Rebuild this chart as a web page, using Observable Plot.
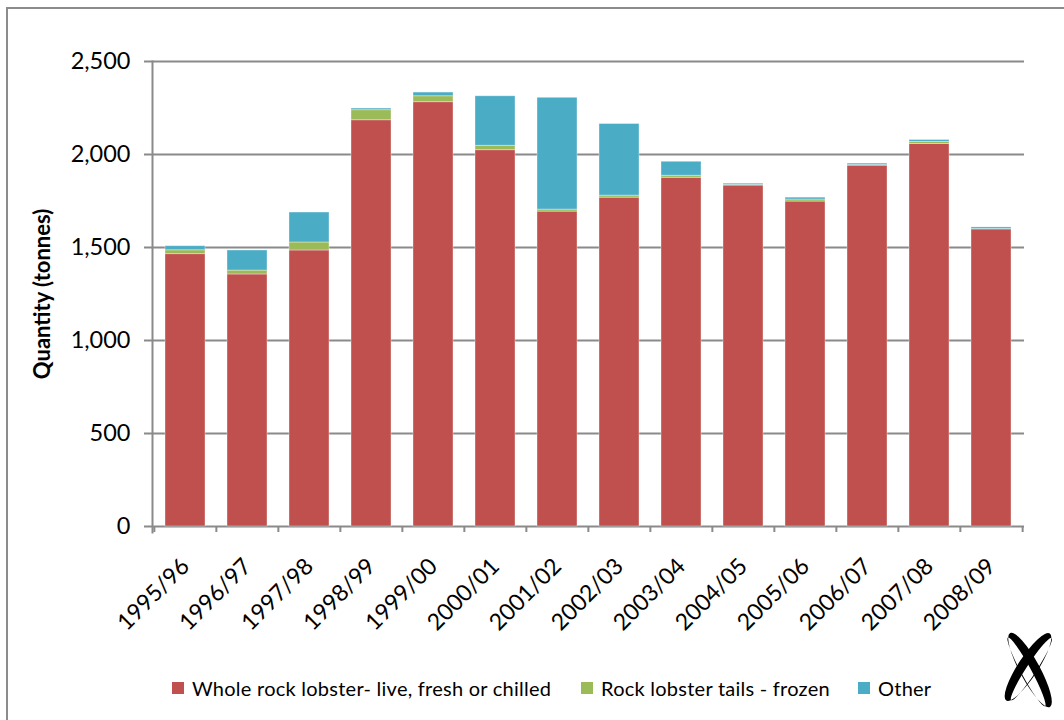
<!DOCTYPE html>
<html>
<head>
<meta charset="utf-8">
<script src="https://cdn.jsdelivr.net/npm/d3@7"></script>
<script src="https://cdn.jsdelivr.net/npm/@observablehq/plot@0.6"></script>
<style>
  html, body { margin: 0; padding: 0; background: #fff; }
  body { width: 1064px; height: 720px; overflow: hidden; position: relative; font-family: Lato, "Open Sans", sans-serif; }
  #frame { position: absolute; left: 6px; top: 7px; width: 1200px; height: 900px;
           border-left: 2px solid #8c8c8c; border-top: 2px solid #8c8c8c; }
  #chart { position: absolute; left: 0; top: 0; }
  #legend { position: absolute; left: 0; top: 660px; width: 1064px; height: 60px; }
  .item { position: absolute; top: 16px; height: 24px; display: flex; align-items: center;
          font-size: 20px; letter-spacing: 0.25px; color: #000; white-space: nowrap; }
  .swatch { width: 12px; height: 12px; margin-right: 8px; }
  #logo { position: absolute; left: 990px; top: 620px; }
</style>
</head>
<body>
<div id="frame"></div>
<div id="chart"></div>
<div id="legend"></div>
<svg id="logo" width="74" height="100" viewBox="0 0 74 100"></svg>
<script>
// Seasons on the category axis
const seasons = ["1995/96", "1996/97", "1997/98", "1998/99", "1999/00", "2000/01", "2001/02",
                 "2002/03", "2003/04", "2004/05", "2005/06", "2006/07", "2007/08", "2008/09"];

// Export quantities (tonnes) by product
const wholeLobster = [1464, 1355, 1484, 2184, 2281, 2023, 1693, 1768, 1875, 1833, 1747, 1940, 2057, 1597];
const tailsFrozen  = [21, 21, 43, 54, 32, 24, 11, 11, 11, 3, 11, 3, 11, 2];
const otherProducts = [22, 108, 161, 9, 20, 266, 601, 385, 75, 7, 10, 8, 10, 9];

const seriesNames = ["Whole rock lobster- live, fresh or chilled", "Rock lobster tails - frozen", "Other"];
const seriesColors = ["#C0504D", "#9BBB59", "#4BACC6"];
const yTicks = [0, 500, 1000, 1500, 2000, 2500];

// Long-format table for the stacked bars
const seriesValues = [wholeLobster, tailsFrozen, otherProducts];
const rows = [];
seasons.forEach((season, i) => {
  seriesNames.forEach((name, s) => rows.push({season, series: name, value: seriesValues[s][i]}));
});

const W = 1064, H = 660, mL = 152, mR = 40, mT = 61, mB = 134;
const step = (W - mL - mR) / seasons.length;
const axisGray = "#8a8a8a";

const chart = Plot.plot({
  width: W,
  height: H,
  marginLeft: mL,
  marginRight: mR,
  marginTop: mT,
  marginBottom: mB,
  style: {fontFamily: "Lato, 'Open Sans', sans-serif", fontSize: "23px", color: "#000", background: "transparent"},
  x: {domain: seasons, paddingInner: 0.36, paddingOuter: 0.18, axis: null},
  y: {domain: [0, 2500], axis: null},
  color: {domain: seriesNames, range: seriesColors},
  marks: [
    // horizontal gridlines (the 0 line doubles as the category axis)
    Plot.ruleY(yTicks, {stroke: axisGray, strokeWidth: 2, insetLeft: -8}),
    // stacked bars
    Plot.barY(rows, {x: "season", y: "value", fill: "series", stroke: "#fff", strokeOpacity: 0.45, strokeWidth: 0.8}),
    // value axis line
    Plot.frame({anchor: "left", stroke: axisGray, strokeWidth: 2, insetBottom: -6}),
    // category tick marks sit between the bars
    Plot.axisX({ticks: seasons, tickSize: 6, tickFormat: () => "", label: null, dx: -step / 2, stroke: axisGray, strokeWidth: 2}),
    Plot.axisX({ticks: seasons.slice(-1), tickSize: 6, tickFormat: () => "", label: null, dx: step / 2, stroke: axisGray, strokeWidth: 2}),
    // category labels
    Plot.axisX({ticks: seasons, tickSize: 0, tickPadding: 36, tickRotate: -45, label: null, fontSize: 23, fill: "#000"}),
    // value labels
    Plot.axisY({ticks: yTicks, tickSize: 0, tickPadding: 22, tickFormat: d3.format(","), label: null, fontSize: 23.5, fill: "#000"}),
    // value axis title
    Plot.text(["Quantity (tonnes)"], {frameAnchor: "left", textAnchor: "middle", dx: -110, rotate: -90,
      fontWeight: "bold", fontSize: 22, fill: "#000"})
  ]
});
document.getElementById("chart").appendChild(chart);

// Legend below the chart
const legendX = [172, 581, 858];
const legend = d3.select("#legend");
seriesNames.forEach((name, i) => {
  const item = legend.append("div").attr("class", "item").style("left", legendX[i] + "px");
  item.append("div").attr("class", "swatch").style("background", seriesColors[i]);
  item.append("span").text(name);
});

// Corner emblem: two crossing calligraphic loops
function crescent(cx, cy, rx, ry, angle, shift, inner) {
  const ring = (x, y, a, b) => `M${x - a},${y}a${a},${b} 0 1,0 ${2 * a},0a${a},${b} 0 1,0 ${-2 * a},0Z`;
  return {d: ring(0, 0, rx, ry) + ring(0, shift, rx - 3, inner), t: `translate(${cx},${cy}) rotate(${angle})`};
}
const logo = d3.select("#logo");
[crescent(40, 50, 42, 10, 61.6, 4, 5), crescent(38, 47, 40, 10, 123, -4, 5)].forEach(c => {
  logo.append("path").attr("d", c.d).attr("transform", c.t).attr("fill", "#000").attr("fill-rule", "evenodd");
});
</script>
</body>
</html>
